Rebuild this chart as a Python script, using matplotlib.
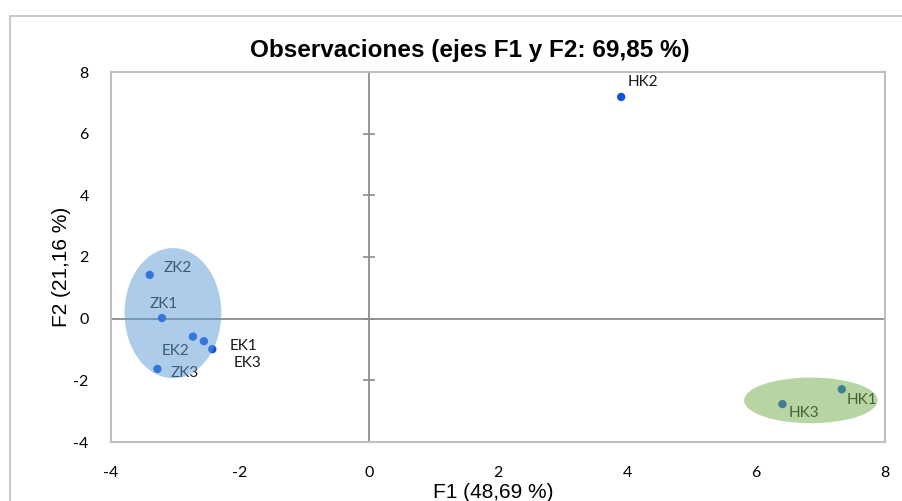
import matplotlib.pyplot as plt
import matplotlib.patches as mpatches
import numpy as np

# observation scores on F1 / F2
names = ['ZK1', 'ZK2', 'ZK3', 'EK1', 'EK2', 'EK3', 'HK1', 'HK2', 'HK3']
f1 = [-3.21, -3.40, -3.28, -2.43, -2.73, -2.56, 7.33, 3.91, 6.41]
f2 = [0.02, 1.42, -1.63, -0.99, -0.58, -0.73, -2.29, 7.19, -2.77]
# label offsets in pixels (dx, dy)
lab_dx = [-12, 14, 13, 17, -31, 30, 5, 6, 6]
lab_dy = [14, 7, -4, 3, -14, -22, -11, 15, -9]

xticks = [-4, -2, 0, 2, 4, 6, 8]
yticks = [-4, -2, 0, 2, 4, 6, 8]

# group ellipses: center x, center y, width, height
groups_cx = [-3.04, 6.85]
groups_cy = [0.18, -2.65]
groups_w = [1.50, 2.07]
groups_h = [4.22, 1.48]
groups_col = ['#5B9BD5', '#70AD47']

W, H = 903, 501
fig = plt.figure(figsize=(W / 100, H / 100), dpi=100)
ax = fig.add_axes([111 / W, (H - 442) / H, 774 / W, 370 / H])

# outer chart border
fig.patches.append(mpatches.Rectangle((10 / W, -0.1), 1.0, (H - 16) / H + 0.1,
                                      transform=fig.transFigure, fill=False,
                                      edgecolor='#BFBFBF', lw=1.2))

ax.set_xlim(-4, 8)
ax.set_ylim(-4, 8)
for s in ax.spines.values():
    s.set_color('#BFBFBF')
    s.set_linewidth(1.5)

ax.axhline(0, color='#8C8C8C', lw=1.3, zorder=1)
ax.axvline(0, color='#8C8C8C', lw=1.3, zorder=1)
ax.plot(np.zeros(len(yticks)), yticks, ls='none', marker='_', markersize=9,
        markeredgewidth=1.2, color='#8C8C8C', zorder=1, clip_on=False)

ax.set_xticks(xticks)
ax.set_yticks(yticks)
ax.set_xticklabels([str(t) for t in xticks], fontfamily='Lato', fontsize=11.5)
ax.set_yticklabels([str(t) for t in yticks], fontfamily='Lato', fontsize=11.5)
ax.tick_params(length=0, pad=0)
ax.tick_params(axis='x', pad=17)
ax.tick_params(axis='y', pad=16)

ax.scatter(f1, f2, s=36, color='#1550E0', zorder=2, edgecolor='none')
for n, x, y, dx, dy in zip(names, f1, f2, lab_dx, lab_dy):
    ax.annotate(n, (x, y), xytext=(dx * 0.72, dy * 0.72), textcoords='offset points',
                ha='left', va='center', fontsize=11, fontfamily='Lato',
                color='#1A1A1A', zorder=3)

for cx, cy, w, h, c in zip(groups_cx, groups_cy, groups_w, groups_h, groups_col):
    ax.add_patch(mpatches.Ellipse((cx, cy), w, h, facecolor=c, edgecolor='none',
                                  alpha=0.5, zorder=4))

fig.text(470 / W, 1 - 50 / H, 'Observaciones (ejes F1 y F2: 69,85 %)',
         ha='center', va='center', fontsize=17.5, fontweight='bold',
         fontfamily='Liberation Sans')
fig.text(493 / W, 1 - 492 / H, 'F1 (48,69 %)', ha='center', va='center',
         fontsize=15, fontfamily='Liberation Sans')
fig.text(62 / W, 1 - 267 / H, 'F2 (21,16 %)', ha='center', va='center',
         rotation=90, fontsize=15, fontfamily='Liberation Sans')

fig.savefig('out.png', dpi=100)
